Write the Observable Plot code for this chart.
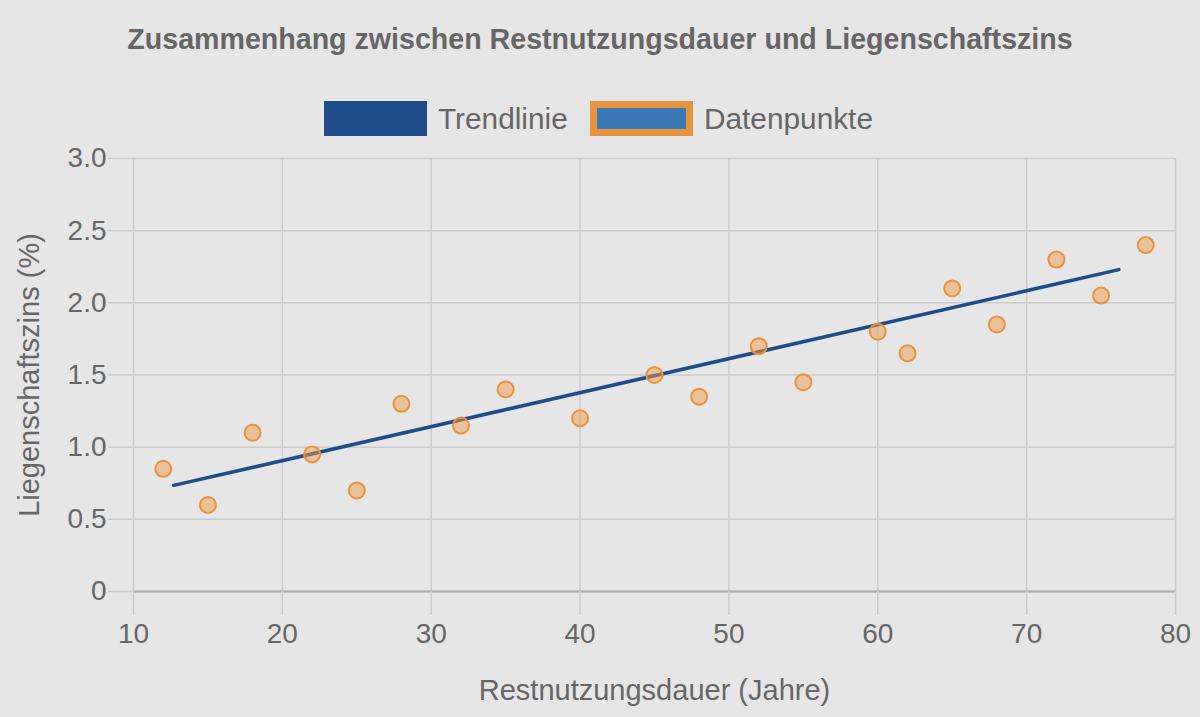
<!DOCTYPE html>
<html>
<head>
<meta charset="utf-8">
<script src="https://cdn.jsdelivr.net/npm/d3@7"></script>
<script src="https://cdn.jsdelivr.net/npm/@observablehq/plot@0.6"></script>
<style>
  body { margin: 0; background: #e6e6e6; font-family: "Liberation Sans", Arial, Helvetica, sans-serif; }
  #wrap { position: relative; width: 1200px; height: 717px; overflow: hidden; background: #e6e6e6; }
  #title { position: absolute; top: 22px; left: 0; width: 1200px; text-align: center; font-weight: bold; font-size: 28.6px; line-height: 34px; color: #666; }
  #legend { position: absolute; top: 101px; left: 0; width: 1200px; height: 36px; }
  .box { position: absolute; top: 0; width: 103px; height: 35px; box-sizing: border-box; }
  .lbl { position: absolute; top: 0; height: 35px; line-height: 36px; font-size: 29.8px; color: #666; white-space: nowrap; }
  #chart { position: absolute; top: 140px; left: 0; }
</style>
</head>
<body>
<div id="wrap">
  <div id="title">Zusammenhang zwischen Restnutzungsdauer und Liegenschaftszins</div>
  <div id="legend">
    <div class="box" style="left:324px;background:#1f4b8a;"></div>
    <div class="lbl" style="left:438px;">Trendlinie</div>
    <div class="box" style="left:590px;background:#3b78b5;border:7px solid #e8933e;"></div>
    <div class="lbl" style="left:704px;">Datenpunkte</div>
  </div>
  <div id="chart"></div>
</div>
<script>
// Data
const years = [12, 15, 18, 22, 25, 28, 32, 35, 40, 45, 48, 52, 55, 60, 62, 65, 68, 72, 75, 78];
const rates = [0.85, 0.6, 1.1, 0.95, 0.7, 1.3, 1.15, 1.4, 1.2, 1.5, 1.35, 1.7, 1.45, 1.8, 1.65, 2.1, 1.85, 2.3, 2.05, 2.4];
const trendYears = [12.7, 76.2];
const trendRates = [0.735, 2.23];
const xTicks = [10, 20, 30, 40, 50, 60, 70, 80];
const yTicks = [0, 0.5, 1.0, 1.5, 2.0, 2.5, 3.0];
const xTitle = "Restnutzungsdauer (Jahre)";
const yTitle = "Liegenschaftszins (%)";

const points = years.map((x, i) => ({x, y: rates[i]}));
const trend = trendYears.map((x, i) => ({x, y: trendRates[i]}));

const gridColor = "#cbcbcb";
const textColor = "#666";

const plot = Plot.plot({
  width: 1200,
  height: 577,
  marginTop: 18,
  marginBottom: 126,
  marginLeft: 133,
  marginRight: 25,
  style: { background: "transparent", fontFamily: '"Liberation Sans", Arial, Helvetica, sans-serif', overflow: "visible" },
  x: { domain: [10, 80] },
  y: { domain: [0, 3] },
  marks: [
    Plot.gridX(xTicks, { stroke: gridColor, strokeOpacity: 1, strokeWidth: 1.5 }),
    Plot.gridY(yTicks, { stroke: gridColor, strokeOpacity: 1, strokeWidth: 1.5 }),
    Plot.ruleY([0], { stroke: "#ababab", strokeWidth: 2 }),
    Plot.axisX(xTicks, {
      tickSize: 24, tickPadding: 8, stroke: gridColor, strokeOpacity: 1, strokeWidth: 1.5,
      fill: textColor, fontSize: 28, label: null, tickFormat: d => String(d)
    }),
    Plot.axisY(yTicks, {
      tickSize: 25, tickPadding: 2, stroke: gridColor, strokeOpacity: 1, strokeWidth: 1.5,
      fill: textColor, fontSize: 28, label: null, tickFormat: d => d === 0 ? "0" : d.toFixed(1)
    }),
    Plot.line(trend, { x: "x", y: "y", stroke: "#1f4b8a", strokeWidth: 3.5 }),
    Plot.dot(points, { x: "x", y: "y", r: 8, fill: "rgba(242,153,74,0.5)", stroke: "#e8933e", strokeWidth: 2 }),
    Plot.text([xTitle], { text: d => d, frameAnchor: "bottom", dy: 99, fontSize: 29, fill: textColor, lineAnchor: "middle" }),
    Plot.text([yTitle], { text: d => d, frameAnchor: "left", dx: -104, rotate: -90, fontSize: 29, fill: textColor, lineAnchor: "middle", textAnchor: "middle" })
  ]
});
document.getElementById("chart").appendChild(plot);
</script>
</body>
</html>
